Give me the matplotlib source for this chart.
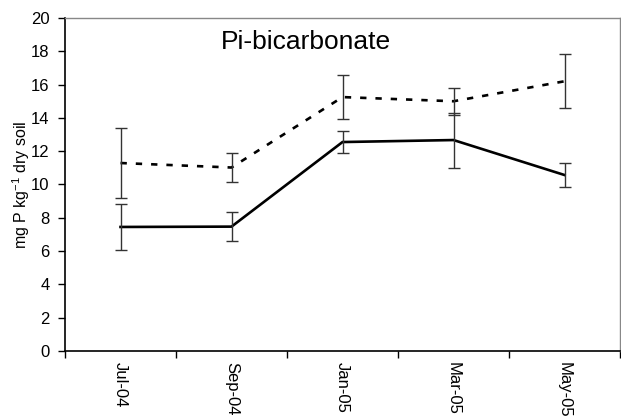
import numpy as np
import matplotlib
matplotlib.use('Agg')
import matplotlib.pyplot as plt

plt.rcParams['font.family'] = ['Liberation Sans', 'DejaVu Sans']
plt.rcParams['mathtext.default'] = 'regular'

months = ['Jul-04', 'Sep-04', 'Jan-05', 'Mar-05', 'May-05']
solid_mean = [7.45, 7.47, 12.55, 12.67, 10.57]
solid_err = [1.4, 0.85, 0.65, 1.65, 0.7]
dashed_mean = [11.29, 11.02, 15.25, 15.0, 16.2]
dashed_err = [2.12, 0.88, 1.33, 0.8, 1.62]
yticks = [0, 2, 4, 6, 8, 10, 12, 14, 16, 18, 20]

fig = plt.figure(figsize=(6.21, 4.17), dpi=100)
ax = fig.add_axes([65 / 621, 66 / 417, 555 / 621, 333 / 417])

x = np.arange(len(months)) + 0.5

ax.plot(x, solid_mean, color='black', lw=1.9, solid_joinstyle='miter', zorder=2)
ax.plot(x, dashed_mean, color='black', lw=1.9, dashes=(2.4, 3.4), zorder=2)
ax.errorbar(x, solid_mean, yerr=solid_err, fmt='none', ecolor='#333333',
            elinewidth=1.0, capsize=4, capthick=1.0, zorder=3)
ax.errorbar(x, dashed_mean, yerr=dashed_err, fmt='none', ecolor='#333333',
            elinewidth=1.0, capsize=4, capthick=1.0, zorder=3)

ax.set_xlim(0, len(months))
ax.set_ylim(0, 20)
ax.set_yticks(yticks)
ax.set_xticks(np.arange(len(months) + 1))
ax.set_xticklabels([])
ax.set_xticks(x, minor=True)
ax.set_xticklabels(months, minor=True, rotation=270, fontsize=12)
ax.tick_params(axis='x', which='minor', length=0, pad=8)
ax.tick_params(axis='x', which='major', length=5, width=1, direction='out')
ax.tick_params(axis='y', length=5, width=1, direction='out', labelsize=12, pad=6)

for side in ['left', 'bottom']:
    ax.spines[side].set_linewidth(1.2)
for side in ['top', 'right']:
    ax.spines[side].set_color('#888888')
    ax.spines[side].set_linewidth(1.0)

ax.set_ylabel('mg P kg$^{-1}$ dry soil', fontsize=11.5, labelpad=-1)
ax.text(0.435, 0.928, 'Pi-bicarbonate', transform=ax.transAxes, ha='center',
        va='center', fontsize=19)

fig.savefig('out.png', dpi=100)
